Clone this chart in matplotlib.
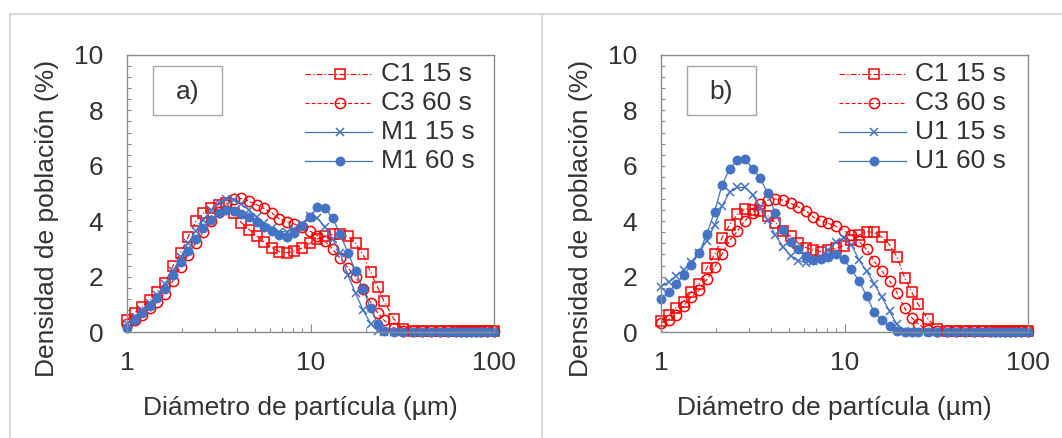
import matplotlib
matplotlib.use("Agg")
import matplotlib.pyplot as plt
from matplotlib.lines import Line2D
from matplotlib.patches import Rectangle
from matplotlib.ticker import FixedLocator, MultipleLocator, NullFormatter, LogLocator, FixedFormatter

plt.rcParams['font.family'] = ['Liberation Sans', 'DejaVu Sans']

# particle size classes (µm)
diam = [1.00, 1.10, 1.21, 1.33, 1.46, 1.61, 1.78, 1.96, 2.15, 2.37,
        2.61, 2.87, 3.16, 3.47, 3.82, 4.20, 4.62, 5.08, 5.59, 6.15,
        6.76, 7.44, 8.18, 9.00, 9.90, 10.9, 12.0, 13.2, 14.5, 16.0,
        17.6, 19.3, 21.3, 23.2, 25.1, 28.4, 32.0, 36.1, 40.6, 45.5,
        50.7, 56.0, 61.7, 65.7, 70.0, 74.5, 79.4, 84.5, 91.1, 100.0]

# panel a) population density (%)
a_c1_15 = [0.45, 0.70, 0.90, 1.15, 1.45, 1.78, 2.38, 2.86, 3.42, 4.00,
           4.30, 4.48, 4.60, 4.67, 4.30, 3.95, 3.70, 3.48, 3.25, 3.05,
           2.90, 2.86, 2.92, 3.03, 3.20, 3.36, 3.48, 3.52, 3.52, 3.45,
           3.20, 2.80, 2.15, 1.62, 1.12, 0.48, 0.10, 0.04, 0.03, 0.03,
           0.03, 0.03, 0.03, 0.03, 0.03, 0.03, 0.03, 0.03, 0.03, 0.03]
a_c3_60 = [0.30, 0.45, 0.62, 0.85, 1.08, 1.38, 1.85, 2.35, 2.78, 3.22,
           3.62, 4.00, 4.35, 4.60, 4.80, 4.82, 4.72, 4.60, 4.46, 4.30,
           4.08, 3.98, 3.90, 3.78, 3.65, 3.48, 3.28, 3.00, 2.66, 2.32,
           2.00, 1.55, 1.05, 0.70, 0.43, 0.15, 0.05, 0.03, 0.03, 0.03,
           0.03, 0.03, 0.03, 0.03, 0.03, 0.03, 0.03, 0.03, 0.03, 0.03]
a_m1_15 = [0.30, 0.55, 0.80, 1.05, 1.35, 1.72, 2.20, 2.70, 3.20, 3.65,
           4.05, 4.40, 4.65, 4.80, 4.78, 4.62, 4.40, 4.15, 3.92, 3.74,
           3.62, 3.62, 3.72, 3.90, 4.20, 4.10, 3.80, 3.35, 2.85, 2.05,
           1.40, 0.80, 0.30, 0.05, 0.01, 0.00, 0.00, 0.00, 0.00, 0.00,
           0.00, 0.00, 0.00, 0.00, 0.00, 0.00, 0.00, 0.00, 0.00, 0.00]
a_m1_60 = [0.15, 0.44, 0.70, 0.95, 1.22, 1.57, 2.06, 2.52, 2.94, 3.34,
           3.76, 4.03, 4.28, 4.42, 4.38, 4.27, 4.16, 3.98, 3.80, 3.64,
           3.50, 3.42, 3.58, 3.82, 4.15, 4.50, 4.48, 4.10, 3.55, 2.85,
           2.20, 1.55, 0.85, 0.30, 0.02, 0.00, 0.00, 0.00, 0.00, 0.00,
           0.00, 0.00, 0.00, 0.00, 0.00, 0.00, 0.00, 0.00, 0.00, 0.00]

# panel b) population density (%)
b_c1_15 = [0.40, 0.62, 0.88, 1.10, 1.45, 1.75, 2.32, 2.80, 3.40, 3.88,
           4.25, 4.45, 4.42, 4.38, 4.20, 3.95, 3.66, 3.45, 3.22, 3.05,
           2.96, 2.90, 2.95, 3.02, 3.12, 3.32, 3.50, 3.62, 3.60, 3.42,
           3.15, 2.72, 1.95, 1.45, 1.02, 0.48, 0.12, 0.04, 0.03, 0.03,
           0.03, 0.03, 0.03, 0.03, 0.03, 0.03, 0.03, 0.03, 0.03, 0.03]
b_c3_60 = [0.32, 0.45, 0.62, 0.95, 1.25, 1.50, 1.90, 2.35, 2.80, 3.30,
           3.65, 4.02, 4.30, 4.62, 4.76, 4.80, 4.76, 4.65, 4.52, 4.38,
           4.15, 4.02, 3.92, 3.82, 3.66, 3.50, 3.28, 2.98, 2.55, 2.20,
           1.85, 1.42, 0.85, 0.52, 0.30, 0.06, 0.03, 0.03, 0.03, 0.03,
           0.03, 0.03, 0.03, 0.03, 0.03, 0.03, 0.03, 0.03, 0.03, 0.03]
b_u1_15 = [1.64, 1.80, 2.02, 2.25, 2.52, 2.85, 3.30, 3.85, 4.55, 5.05,
           5.22, 5.22, 4.95, 4.52, 4.04, 3.50, 3.08, 2.76, 2.58, 2.50,
           2.55, 2.72, 2.95, 3.25, 3.40, 3.15, 2.60, 2.20, 1.75, 1.25,
           0.75, 0.28, 0.03, 0.00, 0.00, 0.00, 0.00, 0.00, 0.00, 0.00,
           0.00, 0.00, 0.00, 0.00, 0.00, 0.00, 0.00, 0.00, 0.00, 0.00]
b_u1_60 = [1.18, 1.45, 1.74, 2.05, 2.42, 2.85, 3.55, 4.35, 5.30, 5.90,
           6.20, 6.25, 5.90, 5.55, 5.00, 4.28, 3.68, 3.24, 2.98, 2.74,
           2.60, 2.62, 2.70, 2.80, 2.62, 2.26, 1.85, 1.30, 0.72, 0.42,
           0.20, 0.02, 0.00, 0.00, 0.00, 0.00, 0.00, 0.00, 0.00, 0.00,
           0.00, 0.00, 0.00, 0.00, 0.00, 0.00, 0.00, 0.00, 0.00, 0.00]

labels_a = ['C1 15 s', 'C3 60 s', 'M1 15 s', 'M1 60 s']
labels_b = ['C1 15 s', 'C3 60 s', 'U1 15 s', 'U1 60 s']
x_ticks = [1, 10, 100]
x_ticklabels = ['1', '10', '100']
y_label = 'Densidad de población (%)'
x_label = 'Diámetro de partícula (µm)'

RED = '#FF0000'
BLUE = '#4472C4'
TXT = '#333333'
AXC = '#8C8C8C'
FS = 19

styles = [
    dict(color=RED, linestyle=(0, (5, 2, 1.2, 2)), lw=0.8, marker='s', ms=6.8,
         mfc='none', mec=RED, mew=1.1),
    dict(color=RED, linestyle=(0, (3.5, 2)), lw=0.8, marker='o', ms=7.4,
         mfc='none', mec=RED, mew=1.1),
    dict(color=BLUE, linestyle='-', lw=0.9, marker='x', ms=5.2,
         mec=BLUE, mew=1.1),
    dict(color=BLUE, linestyle='-', lw=0.9, marker='o', ms=6.6,
         mfc=BLUE, mec=BLUE, mew=0.5),
]

W, H = 1062, 438
fig = plt.figure(figsize=(W / 100, H / 100), dpi=100)
fig.patch.set_facecolor('white')


def fx(px):
    return px / W


def fy(py):
    return 1 - py / H


# outer panel frames
frame_kw = dict(transform=fig.transFigure, color='#D9D9D9', lw=1.5)
fig.add_artist(Line2D([fx(10), fx(1062)], [fy(14), fy(14)], **frame_kw))
fig.add_artist(Line2D([fx(10), fx(10)], [fy(14), fy(438)], **frame_kw))
fig.add_artist(Line2D([fx(542), fx(542)], [fy(14), fy(438)], **frame_kw))


def make_panel(left, right, series, labels, tag, shift):
    ax = fig.add_axes([fx(left), fy(332), fx(right) - fx(left), (332 - 55) / H])
    for vals, st in zip(series, styles):
        ax.plot(diam, vals, clip_on=False, **st)
    ax.set_xscale('log')
    ax.set_xlim(1, 100)
    ax.set_ylim(0, 10)
    ax.xaxis.set_major_locator(FixedLocator(x_ticks))
    ax.xaxis.set_major_formatter(FixedFormatter(x_ticklabels))
    ax.xaxis.set_minor_locator(LogLocator(base=10, subs=range(2, 10)))
    ax.xaxis.set_minor_formatter(NullFormatter())
    ax.yaxis.set_major_locator(MultipleLocator(2))
    ax.yaxis.set_minor_locator(MultipleLocator(0.4))
    ax.tick_params(axis='both', which='both', direction='in', colors=AXC,
                   labelcolor=TXT, labelsize=FS, width=0.8)
    ax.tick_params(axis='y', which='both', length=3, pad=17)
    ax.tick_params(axis='x', which='major', length=6, pad=14)
    ax.tick_params(axis='x', which='minor', length=3)
    for sp in ax.spines.values():
        sp.set_color(AXC)
        sp.set_linewidth(1.0)

    # axis titles
    fig.text(fx(47 + shift), fy(218), y_label, rotation=90, ha='center',
             va='center', fontsize=FS, color=TXT)
    fig.text(fx(300.5 + shift), fy(408), x_label, ha='center', va='center',
             fontsize=FS, color=TXT)

    # panel tag box
    bx0, by0, bx1, by1 = 153 + shift, 66, 222 + shift, 115
    fig.add_artist(Rectangle((fx(bx0), fy(by1)), fx(bx1) - fx(bx0),
                             (by1 - by0) / H, transform=fig.transFigure,
                             fill=False, edgecolor='#A6A6A6', lw=1.0))
    fig.text(fx((bx0 + bx1) / 2), fy(92), tag, ha='center', va='center',
             fontsize=FS, color=TXT)

    # legend
    lx0, lx1, tx = 305 + shift, 372 + shift, 381 + shift
    for i, (lab, st) in enumerate(zip(labels, styles)):
        yy = 74 + 29 * i
        line_st = {k: v for k, v in st.items()
                   if k in ('color', 'linestyle', 'lw')}
        fig.add_artist(Line2D([fx(lx0), fx(lx1)], [fy(yy), fy(yy)],
                              transform=fig.transFigure, **line_st))
        mk_st = {k: v for k, v in st.items()
                 if k in ('marker', 'ms', 'mfc', 'mec', 'mew')}
        fig.add_artist(Line2D([fx((lx0 + lx1) / 2 + 1)], [fy(yy)],
                              transform=fig.transFigure, linestyle='none',
                              **mk_st))
        fig.text(fx(tx), fy(yy), lab, ha='left', va='center',
                 fontsize=FS, color=TXT)
    return ax


make_panel(127, 494, [a_c1_15, a_c3_60, a_m1_15, a_m1_60], labels_a, 'a)', 0)
make_panel(661, 1028, [b_c1_15, b_c3_60, b_u1_15, b_u1_60], labels_b, 'b)', 534)

fig.savefig('out.png', dpi=100)
